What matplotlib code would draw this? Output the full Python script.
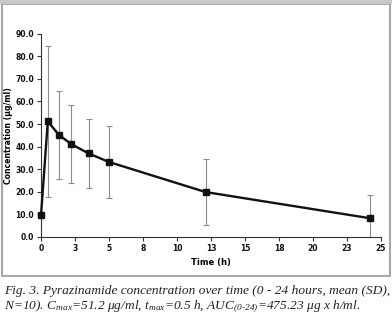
import matplotlib
matplotlib.use("Agg")
import matplotlib.pyplot as plt
from matplotlib.patches import Rectangle

# ---- data ----
time_h = [0.0, 0.5, 1.3, 2.2, 3.5, 5.0, 12.1, 24.2]
conc_mean = [9.6, 51.2, 45.3, 41.2, 37.0, 33.2, 19.9, 8.3]
conc_sd = [0.0, 33.3, 19.5, 17.2, 15.2, 16.0, 14.8, 10.4]
x_ticks = [0, 2.5, 5, 7.5, 10, 12.5, 15, 17.5, 20, 22.5, 25]
x_tick_labels = ['0', '3', '5', '8', '10', '13', '15', '18', '20', '23', '25']
y_ticks = [0, 10, 20, 30, 40, 50, 60, 70, 80, 90]
y_tick_labels = ['0.0', '10.0', '20.0', '30.0', '40.0', '50.0', '60.0', '70.0', '80.0', '90.0']

plt.rcParams['mathtext.fontset'] = 'custom'
plt.rcParams['mathtext.rm'] = 'Liberation Serif:italic'
plt.rcParams['mathtext.it'] = 'Liberation Serif:italic'

fig = plt.figure(figsize=(3.92, 3.19), dpi=100)
fig.patch.set_facecolor('white')

# outer frame
fig.add_artist(Rectangle((1.5/392, 1 - 276/319), 388/392, 272/319,
                         transform=fig.transFigure, fill=False,
                         edgecolor='#a8a8a8', linewidth=1.5))
fig.add_artist(Rectangle((0, 1 - 4/319), 1, 4/319, transform=fig.transFigure,
                         facecolor='#c8c8c8', edgecolor='none'))

ax = fig.add_axes([41/392, 1 - 237/319, 340/392, (237 - 33.7)/319])
ax.errorbar(time_h, conc_mean, yerr=conc_sd, fmt='none', ecolor='#8c8c8c',
            elinewidth=0.8, capsize=2, capthick=0.8, zorder=1)
ax.plot(time_h, conc_mean, color='#111111', lw=1.7, marker='s', ms=4.5,
        mfc='#111111', mec='#111111', zorder=3, clip_on=False)

ax.set_xlim(0, 25)
ax.set_ylim(0, 90)
ax.set_xticks(x_ticks)
ax.set_xticklabels(x_tick_labels)
ax.set_yticks(y_ticks)
ax.set_yticklabels(y_tick_labels)
for s in ['top', 'right']:
    ax.spines[s].set_visible(False)
for s in ['left', 'bottom']:
    ax.spines[s].set_color('#333333')
    ax.spines[s].set_linewidth(0.8)
ax.tick_params(direction='out', length=3, width=0.8, color='#333333',
               labelsize=5.5, pad=2, labelcolor='#111111')
for lab in ax.get_xticklabels() + ax.get_yticklabels():
    lab.set_fontweight('bold')

ax.set_xlabel('Time (h)', fontsize=6, fontweight='bold', labelpad=4)
ax.set_ylabel('Concentration (µg/ml)', fontsize=5.6, fontweight='bold', labelpad=2)

cap_font = dict(family='Liberation Serif', style='italic', fontsize=9.6, color='#222222')
fig.text(4/392, 1 - 291/319, 'Fig. 3. Pyrazinamide concentration over time (0 - 24 hours, mean (SD),',
         va='center', ha='left', **cap_font)
fig.text(4/392, 1 - 307/319,
         r'N=10). C$_{max}$=51.2 μg/ml, t$_{max}$=0.5 h, AUC$_{(0\text{-}24)}$=475.23 μg x h/ml.',
         va='center', ha='left', **cap_font)

fig.savefig('out.png', dpi=100)
